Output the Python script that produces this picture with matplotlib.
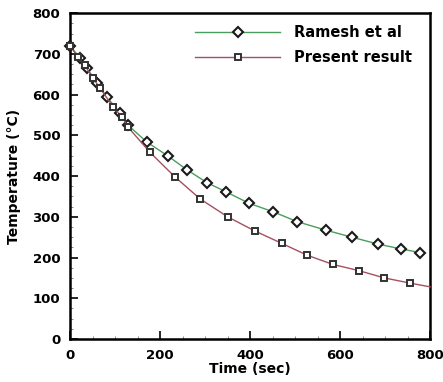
import matplotlib
matplotlib.use("Agg")
import matplotlib.pyplot as plt
from matplotlib.ticker import MultipleLocator

plt.rcParams['font.family'] = ['DejaVu Sans']
plt.rcParams['font.weight'] = 'bold'

# Ramesh et al (diamonds)
ramesh_t = [0, 22, 38, 60, 82, 111, 129, 170, 218, 259, 304, 347, 398, 452, 505, 569, 626, 684, 736, 778]
ramesh_T = [720, 690, 665, 628, 594, 555, 525, 484, 449, 416, 384, 361, 333, 312, 288, 267, 250, 233, 221, 212]

# Present result (squares) - markers
present_t = [0, 18, 33, 51, 67, 96, 116, 129, 178, 233, 289, 350, 411, 470, 526, 584, 641, 698, 756]
present_T = [720, 692, 672, 640, 616, 569, 545, 520, 458, 398, 344, 300, 265, 235, 206, 183, 168, 150, 137]
# line end (no marker)
present_end_t = 800
present_end_T = 128

green = '#4a9e5c'
red = '#a5505e'

fig = plt.figure(figsize=(4.43, 3.82), dpi=100)
ax = fig.add_axes([0.158, 0.1126, 0.813, 0.853])

ax.plot(ramesh_t, ramesh_T, color=green, lw=1.0, marker='D', ms=5.5,
        mfc='white', mec='#1a1a1a', mew=1.5, label='Ramesh et al', clip_on=False, zorder=3)
ax.plot(present_t + [present_end_t], present_T + [present_end_T], color=red, lw=1.0,
        marker='s', ms=5, markevery=list(range(len(present_t))),
        mfc='white', mec='#333333', mew=1.4, label='Present result', clip_on=False, zorder=3)

ax.set_xlim(0, 800)
ax.set_ylim(0, 800)
ax.xaxis.set_major_locator(MultipleLocator(200))
ax.xaxis.set_minor_locator(MultipleLocator(50))
ax.yaxis.set_major_locator(MultipleLocator(100))
ax.yaxis.set_minor_locator(MultipleLocator(25))
ax.tick_params(which='major', direction='in', length=6, width=1.2, labelsize=9.5, pad=7)
ax.tick_params(which='minor', direction='in', length=2.5, width=0.6, color='#777777')
for s in ax.spines.values():
    s.set_linewidth(1.8)

ax.set_xlabel('Time (sec)', fontsize=10, fontweight='bold', labelpad=0)
ax.set_ylabel('Temperature (°C)', fontsize=10, fontweight='bold', labelpad=8)

leg = ax.legend(loc='upper right', bbox_to_anchor=(0.975, 0.99), frameon=False, fontsize=10.5,
                handlelength=5.8, handletextpad=1.0, labelspacing=0.7, borderaxespad=0.2)
for t in leg.get_texts():
    t.set_fontweight('bold')

fig.savefig('out.png', dpi=100)
